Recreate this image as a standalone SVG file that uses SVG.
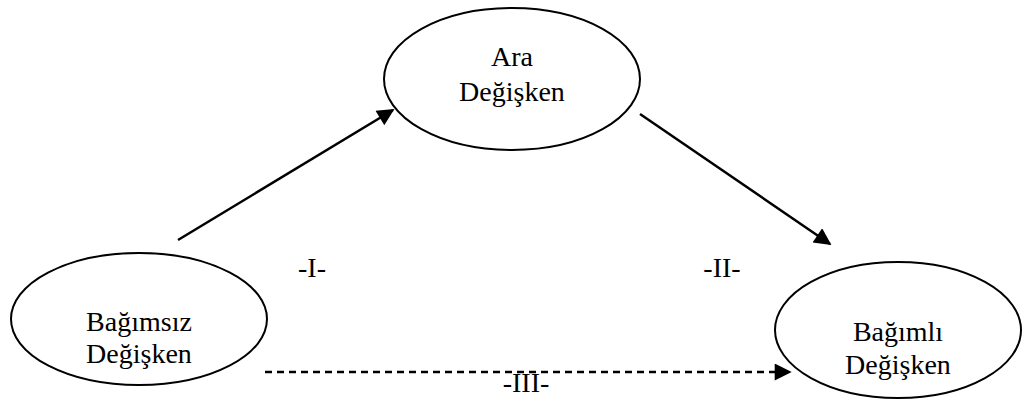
<svg xmlns="http://www.w3.org/2000/svg" width="1027" height="399" viewBox="0 0 1027 399">
  <style>
    .node ellipse { fill: #ffffff; stroke: #000000; stroke-width: 2; }
    .node text, .label { font-family: "Liberation Serif", "Times New Roman", serif; font-size: 28px; fill: #000000; text-anchor: middle; }
    .edge { stroke: #000000; stroke-width: 2.5; fill: none; }
    .dashed { stroke-dasharray: 7 5; }
  </style>
  <defs>
    <marker id="arrowHead" viewBox="0 0 10 10" refX="9" refY="5" markerWidth="19" markerHeight="17" markerUnits="userSpaceOnUse" orient="auto">
      <path d="M0,0 L10,5 L0,10 z" fill="#000000"/>
    </marker>
  </defs>

  <g id="connectors">
    <line class="edge" x1="178" y1="240" x2="393" y2="110" marker-end="url(#arrowHead)"/>
    <line class="edge" x1="640" y1="114" x2="830" y2="244" marker-end="url(#arrowHead)"/>
    <line class="edge dashed" x1="265" y1="372" x2="790" y2="372" marker-end="url(#arrowHead)"/>
  </g>

  <g id="node-bagimsiz" class="node">
    <ellipse cx="139" cy="319" rx="128" ry="66"/>
    <text x="139" y="331">Bağımsız</text>
    <text x="139" y="363">Değişken</text>
  </g>

  <g id="node-ara" class="node">
    <ellipse cx="512" cy="79" rx="128" ry="71"/>
    <text x="512" y="66">Ara</text>
    <text x="512" y="101">Değişken</text>
  </g>

  <g id="node-bagimli" class="node">
    <ellipse cx="898" cy="330" rx="123" ry="68"/>
    <text x="898" y="341">Bağımlı</text>
    <text x="898" y="374">Değişken</text>
  </g>

  <g id="labels">
    <text class="label" x="312" y="277">-I-</text>
    <text class="label" x="722" y="277">-II-</text>
    <text class="label" x="526" y="392">-III-</text>
  </g>
</svg>
